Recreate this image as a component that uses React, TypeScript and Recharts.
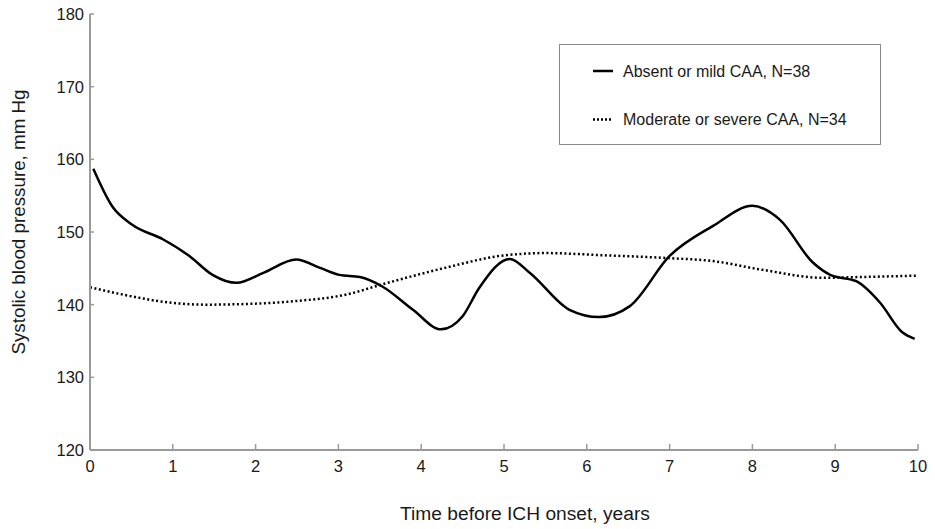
import React from "react";
import { LineChart, Line, XAxis, YAxis } from "recharts";

// Absent or mild CAA, N=38 (solid)
const absentX = [0.04, 0.27, 0.51, 0.88, 1.2, 1.48, 1.77, 2.1, 2.49, 2.77, 3.01, 3.26, 3.53, 3.9, 4.24, 4.5, 4.7, 5.07, 5.31, 5.79, 6.15, 6.52, 7.0, 7.52, 8.0, 8.33, 8.73, 8.94, 9.26, 9.54, 9.81, 9.96];
const absentY = [158.7, 153.5, 151.0, 149.0, 146.7, 144.1, 143.0, 144.4, 146.2, 145.1, 144.1, 143.8, 142.5, 139.3, 136.6, 138.4, 142.3, 146.3, 144.4, 139.3, 138.3, 139.8, 146.7, 150.8, 153.6, 151.7, 145.8, 144.1, 143.2, 140.3, 136.2, 135.3];

// Moderate or severe CAA, N=34 (dotted)
const modX = [0, 0.48, 0.88, 1.4, 1.9, 2.49, 3.1, 3.53, 4.3, 4.95, 5.5, 6.2, 7.0, 7.52, 8.12, 8.85, 9.3, 10];
const modY = [142.4, 141.2, 140.4, 140.0, 140.1, 140.5, 141.4, 142.8, 145.1, 146.7, 147.1, 146.8, 146.4, 146.0, 144.8, 143.7, 143.8, 144.0];

const xTicks = [0, 1, 2, 3, 4, 5, 6, 7, 8, 9, 10];
const yTicks = [120, 130, 140, 150, 160, 170, 180];

const seriesNames = ["Absent or mild CAA, N=38", "Moderate or severe CAA, N=34"];
const xTitle = "Time before ICH onset, years";
const yTitle = "Systolic blood pressure, mm Hg";

const absentData = absentX.map((x, i) => ({ x, v: absentY[i] }));
const modData = modX.map((x, i) => ({ x, v: modY[i] }));

const FONT = "'Liberation Sans', Arial, sans-serif";
const AXIS = "#9a9a9a";

export default function App() {
  return (
    <div style={{ position: "absolute", left: 0, top: 0, width: 935, height: 529, background: "#fff", fontFamily: FONT }}>
      <LineChart width={935} height={529} margin={{ top: 14, right: 17, left: 0, bottom: 49 }}>
        <XAxis
          dataKey="x"
          type="number"
          domain={[0, 10]}
          ticks={xTicks}
          allowDuplicatedCategory={false}
          height={30}
          tickSize={-6}
          tickMargin={16}
          axisLine={{ stroke: AXIS, strokeWidth: 2 }}
          tickLine={{ stroke: AXIS, strokeWidth: 1.5 }}
          tick={{ fill: "#1a1a1a", fontSize: 16.5, fontFamily: FONT }}
        />
        <YAxis
          type="number"
          domain={[120, 180]}
          ticks={yTicks}
          width={90}
          tickSize={-4}
          tickMargin={10}
          axisLine={{ stroke: AXIS, strokeWidth: 2 }}
          tickLine={{ stroke: AXIS, strokeWidth: 1.5 }}
          tick={{ fill: "#1a1a1a", fontSize: 16.5, fontFamily: FONT }}
        />
        <Line
          data={modData}
          dataKey="v"
          name={seriesNames[1]}
          type="monotone"
          stroke="#000"
          strokeWidth={2.5}
          strokeDasharray="2 2.5"
          dot={false}
          isAnimationActive={false}
        />
        <Line
          data={absentData}
          dataKey="v"
          name={seriesNames[0]}
          type="monotone"
          stroke="#000"
          strokeWidth={2.5}
          dot={false}
          isAnimationActive={false}
        />
      </LineChart>
      <svg width={935} height={529} style={{ position: "absolute", left: 0, top: 0, pointerEvents: "none" }}>
        <text x={525} y={520} textAnchor="middle" fontSize={19.2} fontFamily={FONT} fill="#1a1a1a">
          {xTitle}
        </text>
        <text transform="translate(25,222) rotate(-90)" textAnchor="middle" fontSize={18.8} fontFamily={FONT} fill="#1a1a1a">
          {yTitle}
        </text>
        <rect x={559.5} y={44.5} width={321} height={100} fill="#fff" stroke="#8a8a8a" strokeWidth={1} />
        <line x1={593} x2={613} y1={71} y2={71} stroke="#000" strokeWidth={2.5} />
        <text x={623} y={76.7} fontSize={16} fontFamily={FONT} fill="#1a1a1a">
          {seriesNames[0]}
        </text>
        <line x1={593} x2={613} y1={119.5} y2={119.5} stroke="#000" strokeWidth={2.5} strokeDasharray="2 2" />
        <text x={623} y={125} fontSize={16} fontFamily={FONT} fill="#1a1a1a">
          {seriesNames[1]}
        </text>
      </svg>
    </div>
  );
}
